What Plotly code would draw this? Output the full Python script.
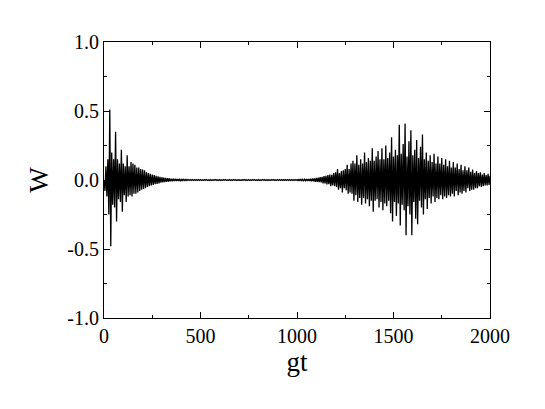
import plotly.graph_objects as go

# time axis: gt sampled every 5 units from 0 to 2000
gt = list(range(0, 2001, 5))

# W, early collapse (gt 0 .. 450)
w_early = [
    0.0, -0.08, 0.10, -0.12, 0.15, -0.25, 0.51, -0.48, 0.20, -0.18,
    0.15, -0.20, 0.35, -0.30, 0.15, -0.14, 0.12, -0.16, 0.22, -0.23,
    0.12, -0.11, 0.10, -0.16, 0.18, -0.12, 0.10, -0.11, 0.13, -0.12,
    0.12, -0.10, 0.11, -0.10, 0.09, -0.09, 0.09, -0.08, 0.08, -0.07,
    0.075, -0.065, 0.07, -0.06, 0.055, -0.05, 0.05, -0.045, 0.045, -0.04,
    0.04, -0.035, 0.035, -0.03, 0.03, -0.028, 0.026, -0.024, 0.022, -0.02,
    0.02, -0.018, 0.017, -0.016, 0.015, -0.014, 0.013, -0.012, 0.011, -0.01,
    0.01, -0.009, 0.009, -0.008, 0.008, -0.007, 0.007, -0.006, 0.006, -0.006,
    0.005, -0.005, 0.005, -0.004, 0.004, -0.004, 0.004, -0.003, 0.003, -0.003,
    0.003,
]

# quiet stretch (gt 455 .. 1045)
w_quiet = [
    -0.003, 0.003, -0.003, 0.003, -0.003, 0.003, -0.003, 0.003, -0.003,
    0.003, -0.003, 0.002, -0.003, 0.003, -0.002, 0.003, -0.003, 0.002, -0.003,
    0.003, -0.003, 0.002, -0.003, 0.003, -0.002, 0.003, -0.003, 0.002, -0.003,
    0.003, -0.003, 0.002, -0.003, 0.003, -0.002, 0.003, -0.003, 0.002, -0.003,
    0.003, -0.003, 0.002, -0.003, 0.003, -0.002, 0.003, -0.003, 0.002, -0.003,
    0.003, -0.003, 0.002, -0.003, 0.003, -0.002, 0.003, -0.003, 0.002, -0.003,
    0.003, -0.003, 0.002, -0.003, 0.003, -0.002, 0.003, -0.003, 0.002, -0.003,
    0.003, -0.003, 0.002, -0.003, 0.003, -0.002, 0.003, -0.003, 0.002, -0.003,
    0.003, -0.003, 0.002, -0.003, 0.003, -0.002, 0.003, -0.003, 0.002, -0.003,
    0.003, -0.003, 0.003, -0.003, 0.003, -0.003, 0.003, -0.003, 0.003, -0.003,
    0.003, -0.003, 0.003, -0.003, 0.003, -0.003, 0.003, -0.003, 0.003, -0.003,
    0.003, -0.004, 0.004, -0.004, 0.005, -0.005, 0.005, -0.006, 0.006, -0.006,
]

# revival (gt 1050 .. 2000)
w_revival = [
    0.006, -0.007, 0.008, -0.008, 0.009, -0.010, 0.011, -0.010, 0.012, -0.013,
    0.015, -0.014, 0.018, -0.016, 0.02, -0.018, 0.022, -0.025, 0.028, -0.024,
    0.03, -0.032, 0.035, -0.03, 0.04, -0.045, 0.038, -0.04, 0.05, -0.045,
    0.055, -0.05, 0.08, -0.07, 0.05, -0.06, 0.065, -0.09, 0.07, -0.06,
    0.08, -0.075, 0.11, -0.10, 0.08, -0.09, 0.12, -0.10, 0.14, -0.15,
    0.12, -0.11, 0.18, -0.16, 0.11, -0.13, 0.15, -0.18, 0.12, -0.13,
    0.20, -0.17, 0.13, -0.14, 0.16, -0.19, 0.14, -0.15, 0.23, -0.23,
    0.14, -0.15, 0.17, -0.14, 0.21, -0.20, 0.15, -0.16, 0.23, -0.22,
    0.15, -0.17, 0.25, -0.19, 0.16, -0.15, 0.20, -0.24, 0.31, -0.30,
    0.17, -0.16, 0.22, -0.26, 0.18, -0.17, 0.40, -0.33, 0.19, -0.18,
    0.26, -0.22, 0.41, -0.40, 0.17, -0.19, 0.28, -0.25, 0.36, -0.40,
    0.18, -0.16, 0.22, -0.28, 0.29, -0.32, 0.16, -0.15, 0.24, -0.20,
    0.33, -0.25, 0.15, -0.14, 0.20, -0.21, 0.14, -0.13, 0.18, -0.17,
    0.13, -0.12, 0.19, -0.16, 0.12, -0.13, 0.17, -0.14, 0.12, -0.11,
    0.16, -0.14, 0.11, -0.12, 0.15, -0.13, 0.10, -0.11, 0.14, -0.12,
    0.09, -0.10, 0.13, -0.12, 0.09, -0.08, 0.12, -0.11, 0.08, -0.09,
    0.11, -0.10, 0.07, -0.08, 0.10, -0.09, 0.07, -0.06, 0.09, -0.08,
    0.06, -0.07, 0.075, -0.07, 0.05, -0.06, 0.065, -0.06, 0.05, -0.045,
    0.055, -0.05, 0.04, -0.045, 0.05, -0.04, 0.035, -0.04, 0.045, -0.035,
    0.03,
]

w = w_early + w_quiet + w_revival
assert len(w) == len(gt)

x_ticks = [0, 500, 1000, 1500, 2000]
y_ticks = [-1.0, -0.5, 0.0, 0.5, 1.0]
y_tick_labels = ["-1.0", "-0.5", "0.0", "0.5", "1.0"]

font = "Liberation Serif, Times New Roman, serif"

fig = go.Figure()
fig.add_trace(go.Scatter(x=gt, y=w, mode="lines",
                         line=dict(color="black", width=1.3, simplify=False),
                         showlegend=False))

axis_common = dict(showline=True, linecolor="black", linewidth=1, mirror="allticks",
                   ticks="inside", ticklen=6, tickwidth=1, tickcolor="black",
                   showgrid=False, zeroline=False,
                   tickfont=dict(family=font, size=20, color="black"))

fig.update_xaxes(range=[0, 2000], tickvals=x_ticks,
                 minor=dict(ticks="inside", ticklen=3, dtick=250, tick0=0, tickcolor="black"),
                 title=dict(text="gt", font=dict(family=font, size=27, color="black"), standoff=0),
                 **axis_common)
fig.update_yaxes(range=[-1.0, 1.0], tickvals=y_ticks, ticktext=y_tick_labels,
                 minor=dict(ticks="inside", ticklen=3, dtick=0.25, tick0=0, tickcolor="black"),
                 title=dict(text="W", font=dict(family=font, size=27, color="black"), standoff=10),
                 **axis_common)

# the page body adds 8px around the figure, so the figure is kept 16px smaller
fig.update_layout(width=529, height=393,
                  margin=dict(l=96, r=47, t=34, b=83),
                  plot_bgcolor="white", paper_bgcolor="white")

fig.write_html("out.html")
